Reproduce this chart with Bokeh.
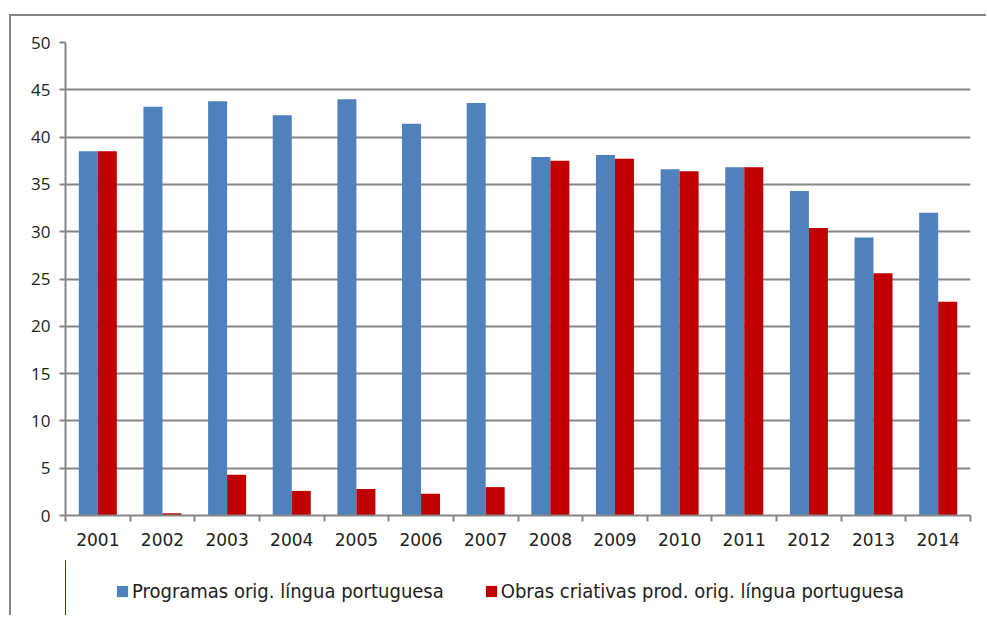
from bokeh.plotting import figure
from bokeh.layouts import column
from bokeh.models import (Range1d, LinearAxis, FixedTicker,
                          Legend, LegendItem, ColumnDataSource)
from bokeh.transform import dodge
from bokeh.embed import file_html
from bokeh.resources import INLINE

years = ["2001", "2002", "2003", "2004", "2005", "2006", "2007",
         "2008", "2009", "2010", "2011", "2012", "2013", "2014"]
programas = [38.5, 43.2, 43.8, 42.3, 44.0, 41.4, 43.6,
             37.9, 38.1, 36.6, 36.8, 34.3, 29.4, 32.0]
obras = [38.5, 0.25, 4.3, 2.6, 2.8, 2.3, 3.0,
         37.5, 37.7, 36.4, 36.8, 30.4, 25.6, 22.6]
label_programas = "Programas orig. língua portuguesa"
label_obras = "Obras criativas prod. orig. língua portuguesa"
y_ticks = [0, 5, 10, 15, 20, 25, 30, 35, 40, 45, 50]

BLUE = "#4F81BD"
RED = "#C00000"
GRAY = "#868686"

n = len(years)
centers = [i + 0.5 for i in range(n)]
src = ColumnDataSource(dict(x=centers, years=years, programas=programas, obras=obras))

p = figure(x_range=Range1d(0, n), y_range=Range1d(0, 50),
           frame_width=905, frame_height=473, output_backend="svg", toolbar_location=None,
           x_axis_location=None, min_border_left=54, min_border_top=26,
           min_border_right=16, min_border_bottom=45)
p.outline_line_color = None
p.background_fill_color = "white"
p.border_fill_color = "white"

r1 = p.vbar(x=dodge("x", -0.147), top="programas", width=0.294,
            source=src, fill_color=BLUE, line_color=None)
r2 = p.vbar(x=dodge("x", 0.147), top="obras", width=0.294,
            source=src, fill_color=RED, line_color=None)

# grid
p.xgrid.visible = False
p.ygrid.grid_line_color = GRAY
p.ygrid.grid_line_width = 2
p.ygrid.ticker = FixedTicker(ticks=y_ticks)

# y axis
p.yaxis.ticker = FixedTicker(ticks=y_ticks)
p.yaxis.axis_line_color = GRAY
p.yaxis.axis_line_width = 2
p.yaxis.major_tick_line_color = GRAY
p.yaxis.major_tick_line_width = 2
p.yaxis.major_tick_out = 6
p.yaxis.major_tick_in = 0
p.yaxis.minor_tick_line_color = None
p.yaxis.major_label_text_font = "Open Sans"
p.yaxis.major_label_text_font_size = "17px"
p.yaxis.major_label_text_color = "#222222"
p.yaxis.major_label_standoff = 9

# x axis: labels at category centres, tick marks at category boundaries
x_axis = LinearAxis(ticker=FixedTicker(ticks=centers, minor_ticks=list(range(n + 1))),
                    major_label_overrides={c: y for c, y in zip(centers, years)})
x_axis.axis_line_color = GRAY
x_axis.axis_line_width = 2
x_axis.major_tick_line_color = None
x_axis.major_tick_out = 6
x_axis.major_tick_in = 0
x_axis.minor_tick_line_color = GRAY
x_axis.minor_tick_line_width = 2
x_axis.minor_tick_out = 6
x_axis.minor_tick_in = 0
x_axis.major_label_text_font = "DejaVu Sans"
x_axis.major_label_text_font_size = "17px"
x_axis.major_label_text_color = "#222222"
x_axis.major_label_standoff = 11
p.add_layout(x_axis, "below")

# legend strip (separate figure so the legend is not clipped);
# its bars use the same data but lie outside this strip's visible range
p2 = figure(x_range=Range1d(100, 101), y_range=Range1d(0, 1), width=975, height=55,
            output_backend="svg", toolbar_location=None,
            x_axis_location=None, y_axis_location=None,
            min_border=0, min_border_left=0, min_border_right=0,
            min_border_top=0, min_border_bottom=0)
p2.outline_line_color = None
p2.xgrid.visible = False
p2.ygrid.visible = False
l1 = p2.vbar(x=dodge("x", -0.147), top="programas", width=0.294, source=src,
             fill_color=BLUE, line_color=None)
l2 = p2.vbar(x=dodge("x", 0.147), top="obras", width=0.294, source=src,
             fill_color=RED, line_color=None)

legend = Legend(items=[LegendItem(label=label_programas, renderers=[l1]),
                       LegendItem(label=label_obras, renderers=[l2])],
                orientation="horizontal", location=(50, 12))
legend.border_line_color = None
legend.background_fill_alpha = 0
legend.glyph_width = 14
legend.glyph_height = 14
legend.label_standoff = 3
legend.spacing = 40
legend.padding = 4
legend.margin = 0
legend.label_text_font = "DejaVu Sans Condensed"
legend.label_text_font_size = "20px"
legend.label_text_color = "#222222"
p2.add_layout(legend, "center")

layout = column(p, p2, spacing=0,
                styles={"border-top": f"2px solid {GRAY}", "border-left": f"2px solid {GRAY}",
                        "margin-top": "14px", "margin-left": "9px"})

open("out.html", "w").write(file_html(layout, INLINE))
